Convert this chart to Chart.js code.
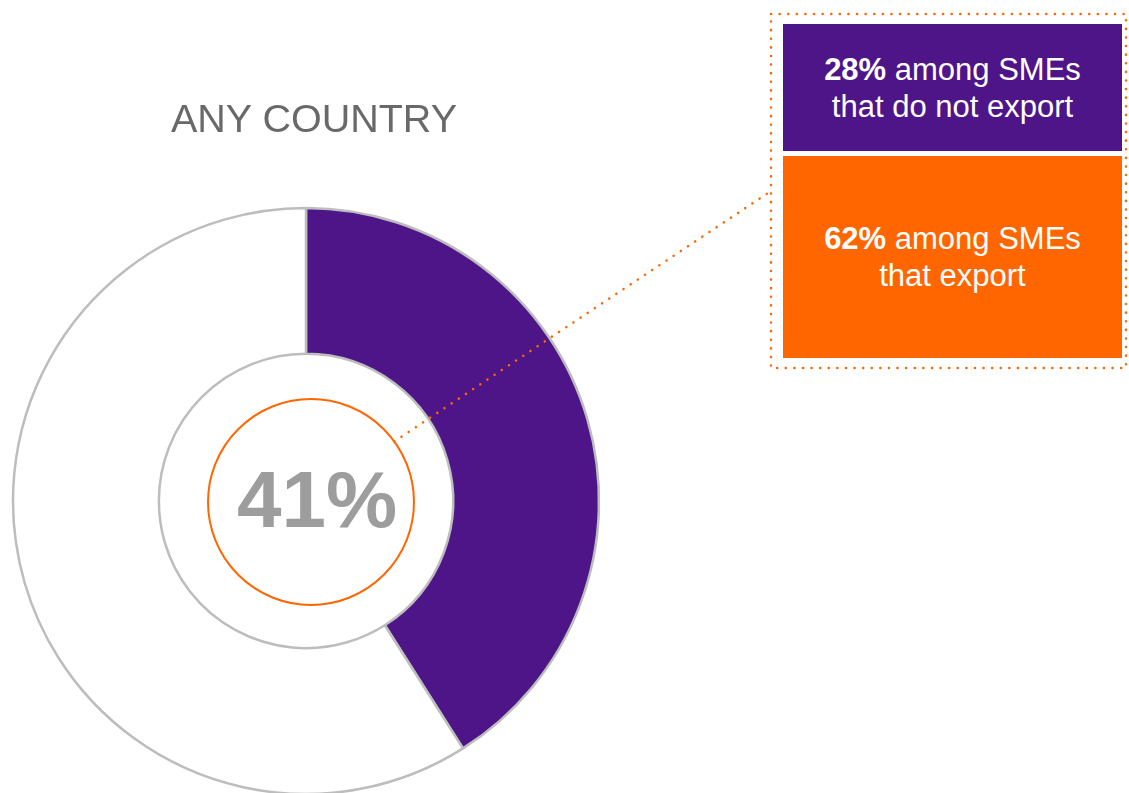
<!DOCTYPE html>
<html>
<head>
<meta charset="utf-8">
<script src="https://cdn.jsdelivr.net/npm/chart.js@4"></script>
<style>
  html, body { margin: 0; padding: 0; background: #fff; overflow: hidden; }
  body { width: 1129px; height: 793px; position: relative; font-family: "Liberation Sans", Arial, sans-serif; }
  #myChart { position: absolute; left: 0; top: 0; }
  #title { position: absolute; left: 114px; width: 400px; top: 96px; text-align: center; font-size: 39.5px; color: #696969; }
  #center { position: absolute; left: 217px; width: 200px; top: 455px; text-align: center; font-size: 80px; font-weight: bold; color: #9d9d9d; line-height: 90px; }
  #frame { position: absolute; left: 771px; top: 14px; width: 355px; height: 354px; }
  .box { position: absolute; left: 12px; width: 339px; color: #fff; font-size: 31px; line-height: 37px; text-align: center; display: flex; align-items: center; justify-content: center; }
  .box b { font-weight: bold; }
  #box0 { top: 10px; height: 127px; background: #4e1589; }
  #box1 { top: 142px; height: 202px; background: #ff6600; }
</style>
</head>
<body>
<canvas id="myChart" width="1129" height="793"></canvas>
<div id="title"></div>
<div id="center"></div>
<div id="frame">
  <div class="box" id="box0"><div></div></div>
  <div class="box" id="box1"><div></div></div>
</div>
<script>
var labels = ['Yes', 'No'];
var values = [41, 59];
var colors = ['#4e1589', '#ffffff'];
var title = 'ANY COUNTRY';
var subValues = [28, 62];
var subLabels = ['among SMEs<br>that do not export', 'among SMEs<br>that export'];

document.getElementById('title').textContent = title;
document.getElementById('center').textContent = values[0] + '%';
document.querySelector('#box0 div').innerHTML = '<b>' + subValues[0] + '%</b> ' + subLabels[0];
document.querySelector('#box1 div').innerHTML = '<b>' + subValues[1] + '%</b> ' + subLabels[1];

// orange ring in the hole, dotted connector and dotted frame
const callout = {
	id: 'callout',
	afterDraw(chart) {
		var c = chart.ctx;
		var arc = chart.getDatasetMeta(0).data[0];
		var cx = arc.x + 5, cy = arc.y + 1;
		var r = arc.innerRadius * 0.7;
		c.save();
		c.strokeStyle = '#ff6600';
		c.lineWidth = 2;
		c.beginPath();
		c.arc(cx, cy, r, 0, Math.PI * 2);
		c.stroke();

		c.lineWidth = 2.5;
		c.lineCap = 'round';
		c.setLineDash([0.1, 8.5]);
		var a = -Math.PI / 180 * 36;
		c.beginPath();
		c.moveTo(cx + r * Math.cos(a), cy + r * Math.sin(a));
		c.lineTo(771, 191);
		c.stroke();
		c.strokeRect(771, 14, 355, 354);
		c.restore();
	}
};

var ctx = document.getElementById('myChart').getContext('2d');
const chart = new Chart(ctx, {
	type: 'doughnut',
	data: {
		labels: labels,
		datasets: [{
			data: values,
			backgroundColor: colors,
			borderColor: '#bdbdbd',
			borderWidth: 2.5
		}]
	},
	options: {
		responsive: false,
		animation: false,
		radius: 293,
		cutout: 146,
		layout: { padding: { left: 0, right: 517, top: 209, bottom: 0 } },
		plugins: {
			legend: { display: false },
			tooltip: { enabled: false }
		}
	},
	plugins: [callout]
});
</script>
</body>
</html>
